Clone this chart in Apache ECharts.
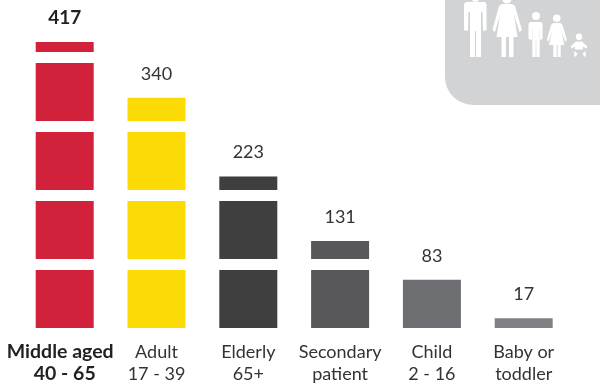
<!DOCTYPE html>
<html>
<head>
<meta charset="utf-8">
<style>html,body{margin:0;padding:0;background:#fff}#c{width:600px;height:388px}</style>
<script src="https://cdn.jsdelivr.net/npm/echarts@6/dist/echarts.min.js"></script>
</head>
<body>
<div id="c"></div>
<script>
// Patients by age group, one block per hundred patients
const categories = ['Middle aged\n40 - 65', 'Adult\n17 - 39', 'Elderly\n65+', 'Secondary\npatient', 'Child\n2 - 16', 'Baby or\ntoddler'];
const patients = [417, 340, 223, 131, 83, 17];
const barColors = ['#D2213A', '#FCDA05', '#3F3F40', '#58585A', '#6D6E71', '#808184'];

const BLOCK = 100;      // patients per block
const BLOCK_GAP = 19;   // gap between blocks, in axis units
const FONT = 'Lato, "Noto Sans", sans-serif';

function renderBlocks(params, api) {
  const idx = api.value(0);
  const value = api.value(1);
  const cx = api.coord([idx, 0])[0];
  const width = api.size([1, 0])[0] * 58 / 91.8;
  const children = [];
  let rest = value, k = 0, topY = 0;
  while (rest > 0) {
    const part = Math.min(rest, BLOCK);
    const start = k * (BLOCK + BLOCK_GAP);
    const y0 = api.coord([idx, start])[1];
    const y1 = api.coord([idx, start + part])[1];
    children.push({
      type: 'rect',
      shape: { x: cx - width / 2, y: y1, width: width, height: y0 - y1 },
      style: { fill: barColors[idx] }
    });
    topY = y1;
    rest -= part;
    k++;
  }
  children.push({
    type: 'text',
    style: {
      text: String(value),
      x: cx, y: topY - 15,
      align: 'center', verticalAlign: 'bottom',
      font: (idx === 0 ? 'bold 19px ' : '18px ') + FONT,
      fill: idx === 0 ? '#231F20' : '#333333'
    }
  });
  return { type: 'group', children: children };
}

// White pictogram family on the grey corner panel
const white = { fill: '#fff' };
const head = (cx, cy, r) => ({ type: 'circle', shape: { cx, cy, r }, style: white });
const outline = points => ({ type: 'polygon', shape: { points }, style: white });

const family = [
  head(475.5, -2, 4),
  outline([[466, 2], [485, 2], [486.5, 4], [486.5, 30], [483, 31], [482.5, 12], [481, 12], [481, 57], [476, 57], [476, 31], [475, 31], [475, 57], [470, 57], [470, 12], [468.500, 12], [468, 31], [464, 30], [464, 4]]),
  head(507, -1, 4.5),
  outline([[502, 4], [512, 4], [515, 6], [522, 30], [519.500, 32], [514, 15], [517.500, 37], [513.500, 37], [513.500, 57], [509, 57], [509, 37], [506, 37], [506, 57], [501.500, 57], [501.500, 37], [496.500, 37], [500, 15], [495, 32], [492.500, 30], [499, 6]]),
  head(536, 16, 4),
  outline([[530, 22], [541, 22], [542.500, 23.500], [542.500, 39], [540, 40], [540, 29], [539.700, 29], [539.700, 57], [536.300, 57], [536.300, 41], [535.700, 41], [535.700, 57], [532.300, 57], [532.300, 29], [532, 29], [532, 40], [528.500, 39], [528.500, 23.500]]),
  head(556.7, 18.3, 3.8),
  outline([[553, 23], [560.500, 23], [562.500, 25], [567, 40], [565, 41.500], [561.500, 31], [564.300, 45], [560.700, 45], [560.700, 57], [557.700, 57], [557.700, 45], [556.700, 45], [556.700, 57], [553.300, 57], [553.300, 45], [549, 45], [552, 31], [548.500, 41.500], [546.800, 40], [551, 25]]),
  head(579, 36.7, 3.2),
  outline([[576, 41.500], [582, 41.500], [587.500, 46.500], [586, 48.500], [583, 46.500], [583, 49.500], [575, 49.500], [575, 46.500], [572, 48.500], [570.500, 46.500]]),
  outline([[574.500, 51], [577.500, 53.500], [575.500, 57], [574, 55.500]]),
  outline([[585.500, 51], [582.500, 53.500], [584.500, 57], [586, 55.500]])
];

const boldLabel = { fontWeight: 'bold', fontSize: 19.5, fontFamily: FONT, color: '#231F20', lineHeight: 22 };

const chart = echarts.init(document.getElementById('c'), null, { renderer: 'canvas' });
chart.setOption({
  animation: false,
  grid: { left: 18.8, width: 550.8, top: 38, height: 290 },
  xAxis: {
    type: 'category',
    data: categories,
    axisLine: { show: false },
    axisTick: { show: false },
    axisLabel: {
      margin: 13,
      interval: 0,
      lineHeight: 22,
      fontFamily: FONT,
      fontSize: 18,
      color: '#333333',
      formatter: (v, i) => {
        if (i !== 0) return v;
        const [name, ages] = v.split('\n');
        return '{lead|' + name + '}\n{b|' + ages + '}';
      },
      rich: {
        b: boldLabel,
        lead: { ...boldLabel, padding: [0, 9, 0, 0] }
      }
    }
  },
  yAxis: { type: 'value', min: 0, max: 500, show: false },
  series: [{
    type: 'custom',
    renderItem: renderBlocks,
    encode: { x: 0, y: 1 },
    data: patients.map((v, i) => [i, v]),
    clip: false
  }],
  graphic: [
    { type: 'rect', shape: { x: 445, y: -40, width: 200, height: 145, r: 28 }, style: { fill: '#D1D3D4' } },
    ...family
  ]
});
</script>
</body>
</html>
